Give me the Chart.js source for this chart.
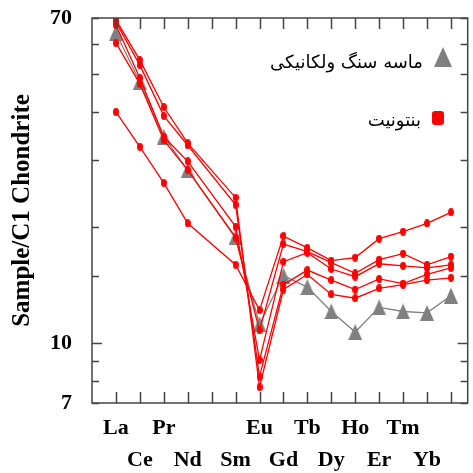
<!DOCTYPE html>
<html>
<head>
<meta charset="utf-8">
<script src="https://cdn.jsdelivr.net/npm/chart.js@4"></script>
<style>
  body { margin: 0; background: #fff; }
  #wrap { width: 473px; height: 473px; }
</style>
</head>
<body>
<div id="wrap"><canvas id="chart"></canvas></div>
<script>
// REE order, Pm left empty
const elements = ["La", "Ce", "Pr", "Nd", "Pm", "Sm", "Eu", "Gd", "Tb", "Dy", "Ho", "Er", "Tm", "Yb", "Lu"];
const hiddenLabels = ["Pm"];
const yTickLabels = [7, 10, 70];

const sandstoneLabel = "ماسه سنگ ولکانیکی";
const bentoniteLabel = "بنتونیت";

// chondrite-normalised values
const sandstone  = [64.0, 47.8, 34.4, 28.2, null, 18.9, 11.2, 15.0, 14.0, 12.1, 10.7, 12.4, 12.1, 12.0, 13.3];
const bentoniteA = [69.2, 54.4, 41.1, 33.1, null, 23.9, 7.7, 13.8, 15.1, 13.4, 13.1, 13.9, 14.2, 14.6, 14.8];
const bentoniteB = [68.3, 52.8, 39.0, 32.7, null, 22.9, 8.2, 14.2, 15.5, 14.6, 13.8, 14.7, 14.3, 15.1, 15.7];
const bentoniteC = [67.1, 48.9, 34.4, 29.7, null, 20.1, 9.05, 16.3, 17.2, 15.6, 14.9, 16.1, 15.9, 15.7, 16.0];
const bentoniteD = [60.3, 47.2, 33.7, 28.2, null, 18.8, 10.8, 18.1, 17.3, 16.2, 15.2, 16.5, 17.1, 16.0, 16.8];
const bentoniteE = [39.9, 32.4, 26.1, 20.5, null, 16.0, 12.2, 19.0, 17.7, 16.4, 16.7, 18.7, 19.5, 20.5, 21.9];

const RED = "#ff0000";
const GRAY = "#808080";
const serif = "'Liberation Serif', 'Times New Roman', serif";

// point sprites
function makeTriangle(w, h, color) {
  const c = document.createElement("canvas");
  c.width = w; c.height = h;
  const g = c.getContext("2d");
  g.fillStyle = color;
  g.beginPath();
  g.moveTo(w / 2, 0);
  g.lineTo(w, h);
  g.lineTo(0, h);
  g.closePath();
  g.fill();
  return c;
}
function makeDot(w, h, color) {
  const c = document.createElement("canvas");
  c.width = w; c.height = h;
  const g = c.getContext("2d");
  g.fillStyle = color;
  g.beginPath();
  g.ellipse(w / 2, h / 2, w / 2, h / 2, 0, 0, Math.PI * 2);
  g.fill();
  return c;
}
const triSprite = makeTriangle(14, 16, GRAY);
const dotSprite = makeDot(6, 8, RED);

const toPoints = vals => vals.map((v, i) => ({ x: i, y: v }));

function redSeries(vals) {
  return {
    label: bentoniteLabel,
    data: toPoints(vals),
    borderColor: RED,
    backgroundColor: RED,
    borderWidth: 1.3,
    pointStyle: dotSprite,
    spanGaps: true
  };
}

const datasets = [
  redSeries(bentoniteA),
  redSeries(bentoniteB),
  redSeries(bentoniteC),
  redSeries(bentoniteD),
  redSeries(bentoniteE),
  {
    label: sandstoneLabel,
    data: toPoints(sandstone),
    borderColor: GRAY,
    backgroundColor: GRAY,
    borderWidth: 1.3,
    pointStyle: triSprite,
    spanGaps: true
  }
];

// frame + inward ticks on all four sides
const frameTicks = {
  id: "frameTicks",
  afterDraw(chart) {
    const { ctx, chartArea: a, scales: { x, y } } = chart;
    ctx.save();
    ctx.strokeStyle = "#444";
    ctx.lineWidth = 1.5;
    ctx.strokeRect(a.left, a.top, a.right - a.left, a.bottom - a.top);
    ctx.beginPath();
    elements.forEach((_, i) => {
      const px = Math.round(x.getPixelForValue(i)) + 0.5;
      ctx.moveTo(px, a.bottom); ctx.lineTo(px, a.bottom - 11);
      ctx.moveTo(px, a.top); ctx.lineTo(px, a.top + 11);
    });
    y.ticks.forEach(t => {
      const py = Math.round(y.getPixelForValue(t.value)) + 0.5;
      const len = t.value === 10 ? 10 : 7;
      ctx.moveTo(a.left, py); ctx.lineTo(a.left + len, py);
      ctx.moveTo(a.right, py); ctx.lineTo(a.right - len, py);
    });
    ctx.stroke();
    ctx.restore();
  }
};

// legend drawn inside the plot, marker on the right of the text
const rtlLegend = {
  id: "rtlLegend",
  afterDraw(chart) {
    const { ctx } = chart;
    ctx.save();
    ctx.font = "18px 'DejaVu Sans', sans-serif";
    ctx.fillStyle = "#000";
    ctx.textAlign = "right";
    ctx.textBaseline = "middle";
    ctx.fillText(sandstoneLabel, 423, 63);
    ctx.drawImage(makeTriangle(18, 20, GRAY), 434, 47);
    ctx.fillText(bentoniteLabel, 421, 121);
    ctx.fillStyle = RED;
    ctx.beginPath();
    ctx.roundRect(432, 111, 12, 14, 3);
    ctx.fill();
    ctx.restore();
  }
};

new Chart(document.getElementById("chart"), {
  type: "line",
  data: { datasets },
  options: {
    responsive: true,
    maintainAspectRatio: false,
    animation: false,
    layout: { padding: { top: 18, right: 3, left: 0, bottom: 0 } },
    plugins: {
      legend: { display: false },
      tooltip: { enabled: false }
    },
    scales: {
      x: {
        type: "linear",
        min: -1,
        max: 14.7,
        grid: { display: false },
        border: { display: false },
        afterFit: s => { s.height = 70; s.paddingLeft = 0; s.paddingRight = 0; },
        ticks: {
          stepSize: 1,
          autoSkip: false,
          maxRotation: 0,
          padding: 1,
          color: "#000",
          font: { family: serif, size: 22, weight: "bold", lineHeight: 1.45 },
          callback: v => {
            if (!Number.isInteger(v) || v < 0 || v >= elements.length) return "";
            const name = hiddenLabels.includes(elements[v]) ? "" : elements[v];
            return v % 2 === 0 ? [name, ""] : ["", name];
          }
        }
      },
      y: {
        type: "logarithmic",
        min: 7,
        max: 70,
        grid: { display: false },
        border: { display: false },
        afterFit: s => { s.width = 92; s.paddingTop = 0; s.paddingBottom = 0; },
        title: {
          display: true,
          text: "Sample/C1 Chondrite",
          color: "#000",
          padding: { top: 8, bottom: 0 },
          font: { family: serif, size: 25, weight: "bold" }
        },
        ticks: {
          autoSkip: false,
          padding: 12,
          color: "#000",
          font: { family: serif, size: 22, weight: "bold" },
          callback: v => yTickLabels.includes(v) ? String(v) : ""
        }
      }
    }
  },
  plugins: [frameTicks, rtlLegend]
});
</script>
</body>
</html>
